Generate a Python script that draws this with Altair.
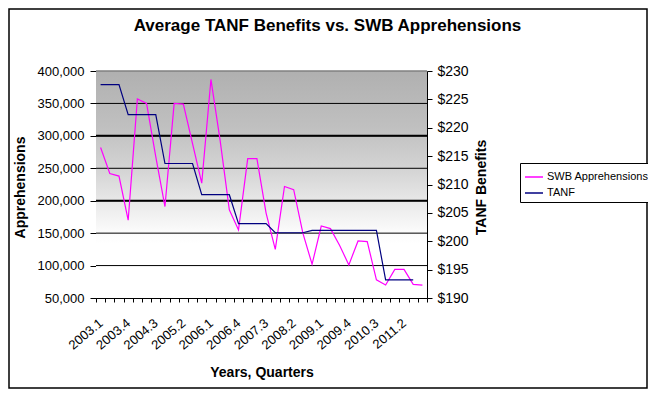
import altair as alt
import pandas as pd

quarters = [
    "2003.1", "2003.2", "2003.3", "2003.4", "2004.1", "2004.2", "2004.3", "2004.4",
    "2005.1", "2005.2", "2005.3", "2005.4", "2006.1", "2006.2", "2006.3", "2006.4",
    "2007.1", "2007.2", "2007.3", "2007.4", "2008.1", "2008.2", "2008.3", "2008.4",
    "2009.1", "2009.2", "2009.3", "2009.4", "2010.1", "2010.2", "2010.3", "2010.4",
    "2011.1", "2011.2", "2011.3", "2011.4",
]
swb = [
    282000, 242000, 238000, 170000, 357000, 350000, 268000, 191000,
    350000, 349000, 288000, 227000, 387000, 293000, 186000, 155000,
    265000, 265000, 181000, 125000, 222000, 217000, 150000, 102000,
    161000, 157000, 131000, 101000, 138000, 137000, 78000, 70000,
    94000, 94000, 71000, 70000,
]
tanf = [
    227.6, 227.6, 227.6, 222.3, 222.3, 222.3, 222.3, 213.7,
    213.7, 213.7, 213.7, 208.2, 208.2, 208.2, 208.2, 203.1,
    203.1, 203.1, 203.1, 201.5, 201.5, 201.5, 201.5, 201.9,
    201.9, 201.9, 201.9, 201.9, 201.9, 201.9, 201.9, 193.2,
    193.2, 193.2, 193.2, None,
]
left_ticks = [50000, 100000, 150000, 200000, 250000, 300000, 350000, 400000]
right_ticks = [190, 195, 200, 205, 210, 215, 220, 225, 230]
grid_vals = [100000, 150000, 200000, 250000, 300000, 350000]
thick_grid_vals = [200000, 300000]
series = ["SWB Apprehensions", "TANF"]
series_colors = ["#ff00ff", "#000080"]

W, H = 331, 227
FONT = "Liberation Sans"

df = pd.DataFrame({"q": quarters, "swb": swb, "tanf": tanf})

left_scale = alt.Scale(domain=[50000, 400000], nice=False, zero=False)
right_scale = alt.Scale(domain=[190, 230], nice=False, zero=False)
x_scale = alt.Scale(type="band", paddingInner=0, paddingOuter=0)
color_scale = alt.Scale(domain=series, range=series_colors)

label_expr = ("((toNumber(substring(datum.label,0,4))-2003)*4"
              "+toNumber(substring(datum.label,5,6))-1)%3==0 ? datum.label : ''")


def x_axis():
    return alt.Axis(
        title="Years, Quarters", titleFont=FONT, titleFontSize=14, titleFontWeight="bold",
        titleColor="black", titleBaseline="middle", titleY=74,
        labelExpr=label_expr, labelAngle=320, labelAlign="right", labelBaseline="middle",
        labelFont=FONT, labelFontSize=13, labelColor="black", labelOverlap=False,
        labelPadding=19, tickBand="extent", tickSize=4, tickColor="black",
        domainColor="black", grid=False,
    )


legend = alt.Legend(
    title=None, orient="none", legendX=424, legendY=92,
    strokeColor="black", fillColor="white", padding=4, rowPadding=1,
    labelFont=FONT, labelFontSize=11, labelColor="black",
    symbolType="stroke", symbolSize=324, symbolStrokeWidth=1.5, labelOffset=3,
)

border = alt.Chart(alt.Data(values=[{"a": 1}])).mark_rect(
    filled=False, stroke="black", strokeWidth=1.5
).encode(x=alt.value(-87), x2=alt.value(551), y=alt.value(-62), y2=alt.value(317))

bg = alt.Chart(alt.Data(values=[{"a": 1}])).mark_rect(
    color=alt.LinearGradient(
        gradient="linear",
        stops=[
            alt.GradientStop(color="#b0b0b0", offset=0),
            alt.GradientStop(color="#c0c0c0", offset=0.25),
            alt.GradientStop(color="#d6d6d6", offset=0.45),
            alt.GradientStop(color="#ececec", offset=0.6),
            alt.GradientStop(color="#fafafa", offset=0.7),
            alt.GradientStop(color="#ffffff", offset=0.76),
        ],
        x1=0, x2=0, y1=0, y2=1,
    )
).encode(x=alt.value(0), x2=alt.value(W), y=alt.value(0), y2=alt.value(H))

top_line = alt.Chart(alt.Data(values=[{"a": 1}])).mark_rule(
    color="#808080", strokeWidth=1.5
).encode(x=alt.value(0), x2=alt.value(W), y=alt.value(0))

grid = alt.Chart(pd.DataFrame({"v": grid_vals})).mark_rule(
    color="black", strokeWidth=1
).encode(y=alt.Y("v:Q", scale=left_scale, axis=None), x=alt.value(0), x2=alt.value(W))

thick_grid = alt.Chart(pd.DataFrame({"v": thick_grid_vals})).mark_rule(
    color="black", strokeWidth=2
).encode(y=alt.Y("v:Q", scale=left_scale, axis=None), x=alt.value(0), x2=alt.value(W))

swb_line = alt.Chart(df).transform_calculate(
    series="'SWB Apprehensions'"
).mark_line(strokeWidth=1.2).encode(
    x=alt.X("q:O", sort=quarters, bandPosition=0.5, scale=x_scale, axis=x_axis()),
    y=alt.Y("swb:Q", scale=left_scale, axis=alt.Axis(
        orient="left", values=left_ticks, format=",.0f", title="Apprehensions",
        titleFont=FONT, titleFontSize=14, titleFontWeight="bold", titleColor="black",
        titleAngle=270, titleX=-76, titleY=116, titleBaseline="middle",
        labelFont=FONT, labelFontSize=13, labelColor="black", labelPadding=6,
        tickSize=6, tickColor="black", domainColor="black", grid=False,
    )),
    color=alt.Color("series:N", scale=color_scale, legend=legend),
)

tanf_line = alt.Chart(df).transform_calculate(
    series="'TANF'"
).mark_line(strokeWidth=1.2).encode(
    x=alt.X("q:O", sort=quarters, bandPosition=0.5, scale=x_scale, axis=x_axis()),
    y=alt.Y("tanf:Q", scale=right_scale, axis=alt.Axis(
        orient="right", values=right_ticks, format="$.0f", title="TANF Benefits",
        titleFont=FONT, titleFontSize=14, titleFontWeight="bold", titleColor="black",
        titleAngle=270, titleX=54, titleY=116, titleBaseline="middle",
        labelFont=FONT, labelFontSize=14, labelColor="black", labelPadding=5,
        tickSize=5, tickColor="black", domainColor="black", grid=False,
    )),
    color=alt.Color("series:N", scale=color_scale, legend=legend),
)

chart = alt.layer(
    border, bg, top_line, grid, thick_grid, swb_line, tanf_line
).resolve_scale(
    y="independent"
).properties(
    width=W, height=H,
    autosize=alt.AutoSizeParams(type="none"),
    padding={"left": 88, "top": 63, "right": 221, "bottom": 91},
    title=alt.Title(
        "Average TANF Benefits vs. SWB Apprehensions",
        font=FONT, fontSize=17, fontWeight="bold", color="black",
        anchor="middle", dx=66, offset=0, dy=44, baseline="bottom",
    ),
).configure_view(stroke=None).configure(background="white")

chart.save("out.html", embed_options={"renderer": "svg", "actions": False})
